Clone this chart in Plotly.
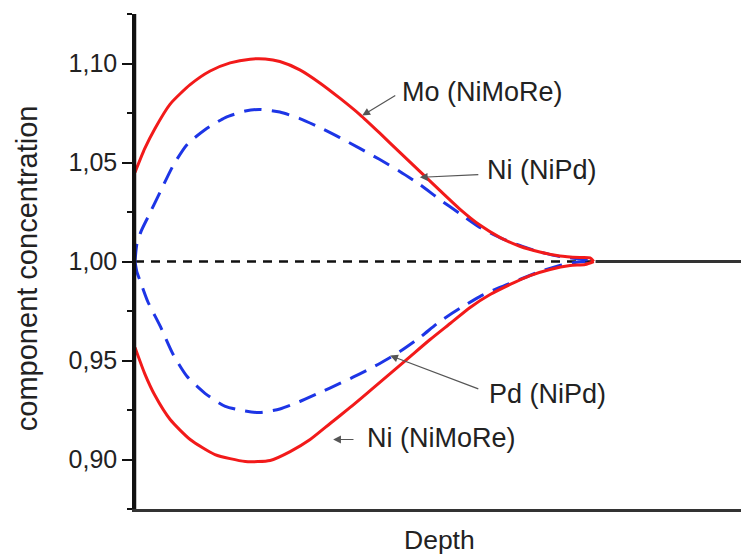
import plotly.graph_objects as go

# Depth in arbitrary units (surface at 0)
mo_nimore_depth = [0.0, 1.6, 3.3, 5.8, 9.1, 12.4, 15.7, 19.0, 21.5, 23.9, 27.2, 30.5, 33.8,
                   37.1, 40.4, 43.7, 47.0, 50.3, 53.6, 56.9, 60.2, 63.5, 66.8, 70.1, 73.4,
                   75.1, 75.7]
mo_nimore_conc = [1.0450, 1.0570, 1.0672, 1.0795, 1.0893, 1.0962, 1.1003, 1.1022, 1.1023,
                  1.1010, 1.0968, 1.0902, 1.0825, 1.0742, 1.0648, 1.0551, 1.0455, 1.0359,
                  1.0265, 1.0184, 1.0122, 1.0077, 1.0048, 1.0028, 1.0020, 1.0018, 1.0000]

ni_nimore_depth = [0.0, 1.6, 3.3, 5.8, 9.1, 13.2, 18.2, 22.3, 25.6, 28.9, 32.2, 35.5, 38.8,
                   42.1, 45.4, 48.7, 52.0, 55.3, 58.6, 61.9, 65.2, 68.5, 71.8, 74.3, 75.7]
ni_nimore_conc = [0.9566, 0.9434, 0.9323, 0.9202, 0.9101, 0.9025, 0.8990, 0.8995, 0.9040,
                  0.9101, 0.9182, 0.9263, 0.9348, 0.9434, 0.9520, 0.9606, 0.9687, 0.9768,
                  0.9833, 0.9884, 0.9929, 0.9960, 0.9980, 0.9985, 1.0000]

ni_nipd_depth = [0.0, 0.3, 1.0, 2.1, 4.1, 6.3, 8.6, 11.6, 14.9, 18.2, 20.6, 23.9, 27.2,
                 30.5, 33.8, 37.1, 40.4, 43.7, 47.0, 50.3, 53.6, 56.9, 60.2, 63.5, 66.8,
                 70.1, 73.4, 75.1]
ni_nipd_conc = [1.0000, 1.0086, 1.0152, 1.0222, 1.0348, 1.0485, 1.0591, 1.0667, 1.0727,
                1.0760, 1.0768, 1.0755, 1.0722, 1.0677, 1.0626, 1.0571, 1.0515, 1.0455,
                1.0389, 1.0313, 1.0242, 1.0172, 1.0121, 1.0081, 1.0048, 1.0025, 1.0013,
                1.0005]

pd_nipd_depth = [0.0, 0.3, 1.0, 2.1, 4.1, 6.3, 8.6, 11.6, 14.9, 18.2, 20.6, 23.9, 27.2,
                 30.5, 33.8, 37.1, 40.4, 43.7, 47.0, 50.3, 53.6, 56.9, 60.2, 63.5, 66.8,
                 70.1, 72.6, 74.3]
pd_nipd_conc = [1.0000, 0.9949, 0.9889, 0.9798, 0.9677, 0.9530, 0.9419, 0.9333, 0.9268,
                0.9245, 0.9237, 0.9255, 0.9293, 0.9338, 0.9384, 0.9432, 0.9485, 0.9545,
                0.9616, 0.9697, 0.9763, 0.9823, 0.9869, 0.9909, 0.9949, 0.9980, 0.9995,
                1.0000]

# Bulk level: dashed inside the profile region, solid beyond it
bulk_dashed_depth = [0.0, 76.0]
bulk_solid_depth = [76.0, 100.0]
bulk_level = 1.0

y_tick_vals = [0.90, 0.95, 1.00, 1.05, 1.10]
y_tick_text = ["0,90", "0,95", "1,00", "1,05", "1,10"]

# (label, text x, text y, arrow tail x, tail y, arrow head x, head y)
labels = [
    ("Mo (NiMoRe)", 43.7, 1.0854, 43.2, 1.0843, 37.5, 1.0737),
    ("Ni (NiPd)", 57.8, 1.0460, 56.9, 1.0439, 47.0, 1.0425),
    ("Pd (NiPd)", 58.1, 0.9333, 56.9, 0.9354, 42.1, 0.9525),
    ("Ni (NiMoRe)", 38.0, 0.9111, 36.3, 0.9101, 32.7, 0.9101),
]

FONT = "Liberation Sans, Arial, Helvetica, sans-serif"
TEXT = "#222222"
RED = "#f21a1a"
BLUE = "#1d35e6"

fig = go.Figure()

fig.add_trace(go.Scatter(x=bulk_dashed_depth, y=[bulk_level] * 2, mode="lines",
                         line=dict(color="#111111", width=2.5, dash="9px,7px"),
                         hoverinfo="skip"))
fig.add_trace(go.Scatter(x=bulk_solid_depth, y=[bulk_level] * 2, mode="lines",
                         line=dict(color="#333333", width=3), hoverinfo="skip"))

for xs, ys in [(ni_nipd_depth, ni_nipd_conc), (pd_nipd_depth, pd_nipd_conc)]:
    fig.add_trace(go.Scatter(x=xs, y=ys, mode="lines",
                             line=dict(color=BLUE, width=3, dash="18px,10px",
                                       shape="spline", smoothing=0.6)))

for xs, ys in [(mo_nimore_depth, mo_nimore_conc), (ni_nimore_depth, ni_nimore_conc)]:
    fig.add_trace(go.Scatter(x=xs, y=ys, mode="lines",
                             line=dict(color=RED, width=3, shape="spline", smoothing=0.6)))

annotations = []
for text, tx, ty, ax, ay, hx, hy in labels:
    annotations.append(dict(x=tx, y=ty, xref="x", yref="y", text=text, showarrow=False,
                            xanchor="left", yanchor="middle",
                            font=dict(family=FONT, size=27, color=TEXT)))
    annotations.append(dict(x=hx, y=hy, ax=ax, ay=ay, xref="x", yref="y",
                            axref="x", ayref="y", text="", showarrow=True,
                            arrowhead=2, arrowsize=1.3, arrowwidth=1.2,
                            arrowcolor="#555555"))

# Axis titles
annotations.append(dict(x=-0.177, y=0.486, xref="paper", yref="paper",
                        text="component concentration", textangle=-90, showarrow=False,
                        xanchor="center", yanchor="middle",
                        font=dict(family=FONT, size=29, color=TEXT)))
annotations.append(dict(x=0.502, y=-0.062, xref="paper", yref="paper",
                        text="Depth", showarrow=False, xanchor="center", yanchor="middle",
                        font=dict(family=FONT, size=26.5, color=TEXT)))

fig.update_layout(
    width=741, height=555,
    margin=dict(l=135, r=0, t=14, b=46),
    paper_bgcolor="white", plot_bgcolor="white",
    showlegend=False,
    font=dict(family=FONT, color=TEXT),
    annotations=annotations,
    shapes=[dict(type="line", xref="x domain", yref="y domain", x0=0, x1=0, y0=0, y1=1,
                 line=dict(color="#111111", width=2.5), layer="above")],
)

fig.update_xaxes(
    range=[0, 100], showgrid=False, zeroline=False,
    showline=True, linecolor="#333333", linewidth=3,
    showticklabels=False, ticks="",
)

fig.update_yaxes(
    range=[0.875, 1.125], showgrid=False, zeroline=False,
    showline=True, linecolor="#111111", linewidth=2.5,
    tickmode="array", tickvals=y_tick_vals, ticktext=y_tick_text,
    ticks="outside", ticklen=10, tickwidth=2, tickcolor="#111111",
    tickfont=dict(size=25, family=FONT, color=TEXT),
    minor=dict(ticks="outside", ticklen=5, tickwidth=2, tickcolor="#111111",
               tickmode="linear", tick0=0.875, dtick=0.05),
)

fig.write_html("out.html")
